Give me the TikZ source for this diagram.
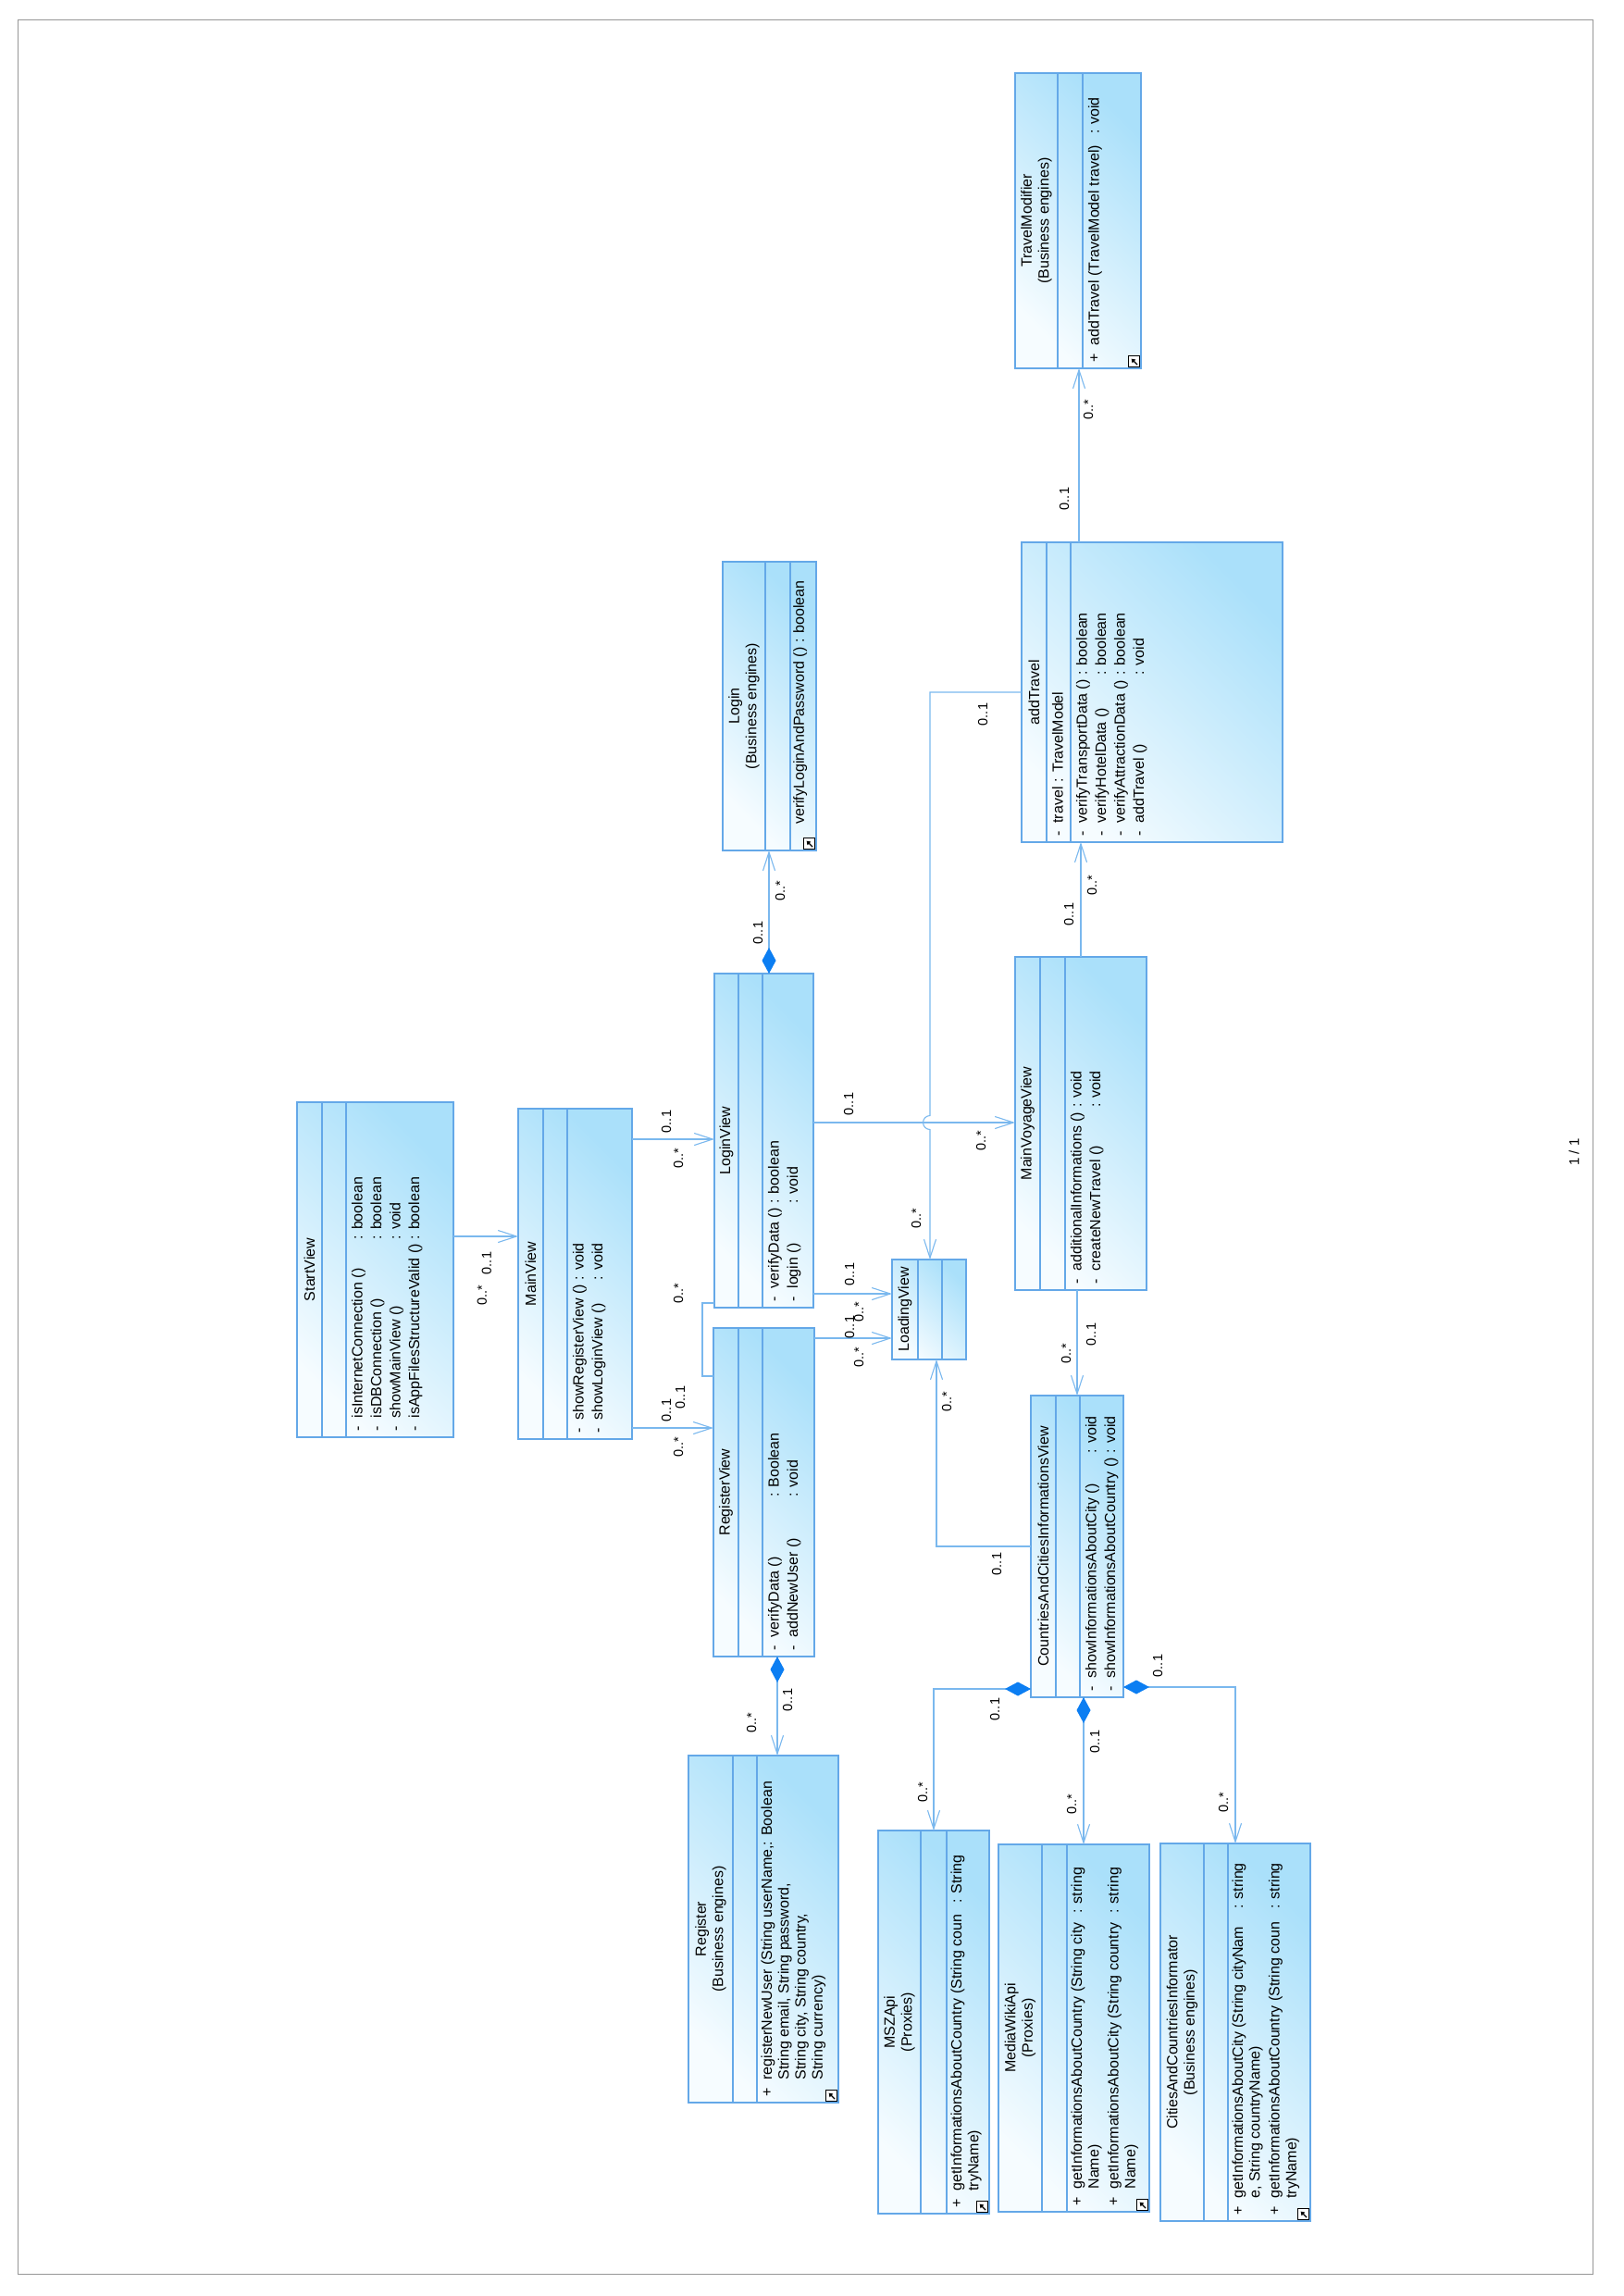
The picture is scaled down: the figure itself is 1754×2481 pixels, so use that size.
\documentclass[tikz,border=0pt]{standalone}
\usepackage{fontspec}
\setmainfont{Liberation Sans}
\usepackage{tikz}
\usetikzlibrary{arrows.meta}
\definecolor{umlBorder}{RGB}{100,168,232}
\definecolor{umlLight}{RGB}{246,252,255}
\definecolor{umlDark}{RGB}{170,224,250}
\definecolor{umlLine}{RGB}{122,184,238}
\definecolor{umlDiamond}{RGB}{12,126,242}
\definecolor{frameGray}{RGB}{150,150,150}

\begin{document}
\begin{tikzpicture}[x=1pt, y=-1pt,
  classbox/.style={draw=umlBorder, line width=1.1pt, top color=umlDark, bottom color=umlLight, shading angle=-45, anchor=north west, inner sep=0pt, outer sep=0pt},
  compline/.style={draw=umlBorder, line width=1.1pt},
  nametext/.style={rotate=90, align=center, inner sep=0pt, font=\fontsize{16}{18.5}\selectfont},
  opstext/.style={rotate=90, anchor=north west, inner sep=0pt, font=\fontsize{16}{20.5}\selectfont},
  mult/.style={rotate=90, inner sep=0pt, font=\fontsize{14.5}{17}\selectfont},
  assoc/.style={draw=umlLine, line width=1.1pt, -{Straight Barb[length=20pt,width=13pt]}},
  compo/.style={draw=umlLine, line width=1.1pt, {Diamond[length=28pt,width=15pt,color=umlDiamond,fill=umlDiamond]}-{Straight Barb[length=20pt,width=13pt]}},
  iconbox/.style={draw=black, fill=white, line width=0.8pt, minimum size=12pt, inner sep=0pt, anchor=south east,
    path picture={\draw[-{Triangle[length=4pt,width=5pt]}, line width=1.3pt] ([shift={(-2.5pt,2.5pt)}]path picture bounding box.south east) -- ([shift={(3pt,-3pt)}]path picture bounding box.north west);}}]
\useasboundingbox (0,0) rectangle (1754,2481);
\draw[frameGray, line width=1pt] (19,22) rectangle (1721,2457);
\node[rotate=90, font=\fontsize{15}{18}\selectfont] (pageNo) at (1701,1245) {1 / 1};

\node[classbox, minimum width=169, minimum height=362] (StartView) at (321,1191) {};
\draw[compline] ([xshift=27pt]StartView.north west) -- ([xshift=27pt]StartView.south west);
\draw[compline] ([xshift=53pt]StartView.north west) -- ([xshift=53pt]StartView.south west);
\node[nametext] (StartViewName) at ([xshift=13.5pt]StartView.west) {StartView};
\node[opstext] (StartViewOps) at ([xshift=56pt,yshift=6pt]StartView.south west) {\begin{tabular}{@{}l@{\hspace{9pt}}l@{\hspace{5pt}}l@{}}
- & isInternetConnection () & : boolean\\
- & isDBConnection () & : boolean\\
- & showMainView () & : void\\
- & isAppFilesStructureValid () & : boolean
\end{tabular}};

\node[classbox, minimum width=123, minimum height=357] (MainView) at (560,1198) {};
\draw[compline] ([xshift=27pt]MainView.north west) -- ([xshift=27pt]MainView.south west);
\draw[compline] ([xshift=53pt]MainView.north west) -- ([xshift=53pt]MainView.south west);
\node[nametext] (MainViewName) at ([xshift=13.5pt]MainView.west) {MainView};
\node[opstext] (MainViewOps) at ([xshift=56pt,yshift=6pt]MainView.south west) {\begin{tabular}{@{}l@{\hspace{9pt}}l@{\hspace{5pt}}l@{}}
- & showRegisterView () & : void\\
- & showLoginView () & : void
\end{tabular}};

\node[classbox, minimum width=107, minimum height=361] (LoginView) at (772,1052) {};
\draw[compline] ([xshift=26pt]LoginView.north west) -- ([xshift=26pt]LoginView.south west);
\draw[compline] ([xshift=52pt]LoginView.north west) -- ([xshift=52pt]LoginView.south west);
\node[nametext] (LoginViewName) at ([xshift=13pt]LoginView.west) {LoginView};
\node[opstext] (LoginViewOps) at ([xshift=55pt,yshift=6pt]LoginView.south west) {\begin{tabular}{@{}l@{\hspace{9pt}}l@{\hspace{5pt}}l@{}}
- & verifyData () & : boolean\\
- & login () & : void
\end{tabular}};

\node[classbox, minimum width=109, minimum height=355] (RegisterView) at (771,1435) {};
\draw[compline] ([xshift=27pt]RegisterView.north west) -- ([xshift=27pt]RegisterView.south west);
\draw[compline] ([xshift=53pt]RegisterView.north west) -- ([xshift=53pt]RegisterView.south west);
\node[nametext] (RegisterViewName) at ([xshift=13.5pt]RegisterView.west) {RegisterView};
\node[opstext] (RegisterViewOps) at ([xshift=56pt,yshift=6pt]RegisterView.south west) {\begin{tabular}{@{}l@{\hspace{9pt}}l@{\hspace{5pt}}l@{}}
- & \makebox[147pt][l]{verifyData ()} & : Boolean\\
- & addNewUser () & : void
\end{tabular}};

\node[classbox, minimum width=101, minimum height=312] (Login) at (781,607) {};
\draw[compline] ([xshift=46pt]Login.north west) -- ([xshift=46pt]Login.south west);
\draw[compline] ([xshift=73pt]Login.north west) -- ([xshift=73pt]Login.south west);
\node[nametext] (LoginName) at ([xshift=23pt]Login.west) {Login\\(Business engines)};
\node[opstext] (LoginOps) at ([xshift=76pt,yshift=28pt]Login.south west) {verifyLoginAndPassword ()\hspace{5pt}: boolean};
\node[iconbox] (LoginIcon) at ([xshift=-1pt,yshift=1pt]Login.south east) {};

\node[classbox, minimum width=162, minimum height=375] (Register) at (744,1897) {};
\draw[compline] ([xshift=48pt]Register.north west) -- ([xshift=48pt]Register.south west);
\draw[compline] ([xshift=74pt]Register.north west) -- ([xshift=74pt]Register.south west);
\node[nametext] (RegisterName) at ([xshift=24pt]Register.west) {Register\\(Business engines)};
\node[opstext, font=\fontsize{16}{18.3}\selectfont] (RegisterOps) at ([xshift=77pt,yshift=6pt]Register.south west) {\begin{tabular}{@{}l@{\hspace{9pt}}l@{}}
+ & registerNewUser (String userName,: Boolean\\
 & String email, String password,\\
 & String city, String country,\\
 & String currency)
\end{tabular}};
\node[iconbox] (RegisterIcon) at ([xshift=-1pt,yshift=1pt]Register.south east) {};

\node[classbox, minimum width=80, minimum height=108] (LoadingView) at (964,1361) {};
\draw[compline] ([xshift=28pt]LoadingView.north west) -- ([xshift=28pt]LoadingView.south west);
\draw[compline] ([xshift=54pt]LoadingView.north west) -- ([xshift=54pt]LoadingView.south west);
\node[nametext] (LoadingViewName) at ([xshift=14pt]LoadingView.west) {LoadingView};

\node[classbox, minimum width=142, minimum height=360] (MainVoyageView) at (1097,1034) {};
\draw[compline] ([xshift=27pt]MainVoyageView.north west) -- ([xshift=27pt]MainVoyageView.south west);
\draw[compline] ([xshift=54pt]MainVoyageView.north west) -- ([xshift=54pt]MainVoyageView.south west);
\node[nametext] (MainVoyageViewName) at ([xshift=13.5pt]MainVoyageView.west) {MainVoyageView};
\node[opstext] (MainVoyageViewOps) at ([xshift=57pt,yshift=6pt]MainVoyageView.south west) {\begin{tabular}{@{}l@{\hspace{9pt}}l@{\hspace{5pt}}l@{}}
- & additionalInformations () & : void\\
- & createNewTravel () & : void
\end{tabular}};

\node[classbox, minimum width=282, minimum height=324] (addTravel) at (1104,586) {};
\draw[compline] ([xshift=27pt]addTravel.north west) -- ([xshift=27pt]addTravel.south west);
\draw[compline] ([xshift=53pt]addTravel.north west) -- ([xshift=53pt]addTravel.south west);
\node[nametext] (addTravelName) at ([xshift=13.5pt]addTravel.west) {addTravel};
\node[opstext] (addTravelAttr) at ([xshift=30pt,yshift=6pt]addTravel.south west) {\begin{tabular}{@{}l@{\hspace{9pt}}l@{\hspace{5pt}}l@{}}
- & travel & : TravelModel
\end{tabular}};
\node[opstext] (addTravelOps) at ([xshift=56pt,yshift=6pt]addTravel.south west) {\begin{tabular}{@{}l@{\hspace{9pt}}l@{\hspace{5pt}}l@{}}
- & verifyTransportData () & : boolean\\
- & verifyHotelData () & : boolean\\
- & verifyAttractionData () & : boolean\\
- & addTravel () & : void
\end{tabular}};

\node[classbox, minimum width=136, minimum height=319] (TravelModifier) at (1097,79) {};
\draw[compline] ([xshift=46pt]TravelModifier.north west) -- ([xshift=46pt]TravelModifier.south west);
\draw[compline] ([xshift=73pt]TravelModifier.north west) -- ([xshift=73pt]TravelModifier.south west);
\node[nametext] (TravelModifierName) at ([xshift=23pt]TravelModifier.west) {TravelModifier\\(Business engines)};
\node[opstext] (TravelModifierOps) at ([xshift=76pt,yshift=6pt]TravelModifier.south west) {\begin{tabular}{@{}l@{\hspace{9pt}}l@{\hspace{12pt}}l@{}}
+ & addTravel (TravelModel travel) & : void
\end{tabular}};
\node[iconbox] (TravelModifierIcon) at ([xshift=-1pt,yshift=1pt]TravelModifier.south east) {};

\node[classbox, minimum width=100, minimum height=326] (CountriesView) at (1114,1508) {};
\draw[compline] ([xshift=27pt]CountriesView.north west) -- ([xshift=27pt]CountriesView.south west);
\draw[compline] ([xshift=53pt]CountriesView.north west) -- ([xshift=53pt]CountriesView.south west);
\node[nametext] (CountriesViewName) at ([xshift=13.5pt]CountriesView.west) {CountriesAndCitiesInformationsView};
\node[opstext] (CountriesViewOps) at ([xshift=56pt,yshift=6pt]CountriesView.south west) {\begin{tabular}{@{}l@{\hspace{9pt}}l@{\hspace{5pt}}l@{}}
- & showInformationsAboutCity () & : void\\
- & showInformationsAboutCountry () & : void
\end{tabular}};

\node[classbox, minimum width=120, minimum height=414] (MSZApi) at (949,1978) {};
\draw[compline] ([xshift=46pt]MSZApi.north west) -- ([xshift=46pt]MSZApi.south west);
\draw[compline] ([xshift=74pt]MSZApi.north west) -- ([xshift=74pt]MSZApi.south west);
\node[nametext] (MSZApiName) at ([xshift=23pt]MSZApi.west) {MSZApi\\(Proxies)};
\node[opstext, font=\fontsize{16}{18.3}\selectfont] (MSZApiOps) at ([xshift=77pt,yshift=6pt]MSZApi.south west) {\begin{tabular}{@{}l@{\hspace{9pt}}l@{\hspace{12pt}}l@{}}
+ & getInformationsAboutCountry (String coun & : String\\
 & tryName) &
\end{tabular}};
\node[iconbox] (MSZApiIcon) at ([xshift=-1pt,yshift=1pt]MSZApi.south east) {};

\node[classbox, minimum width=163, minimum height=397] (MediaWikiApi) at (1079,1993) {};
\draw[compline] ([xshift=47pt]MediaWikiApi.north west) -- ([xshift=47pt]MediaWikiApi.south west);
\draw[compline] ([xshift=74pt]MediaWikiApi.north west) -- ([xshift=74pt]MediaWikiApi.south west);
\node[nametext] (MediaWikiApiName) at ([xshift=23.5pt]MediaWikiApi.west) {MediaWikiApi\\(Proxies)};
\node[opstext, font=\fontsize{16}{18.3}\selectfont] (MediaWikiApiOps) at ([xshift=77pt,yshift=6pt]MediaWikiApi.south west) {\begin{tabular}{@{}l@{\hspace{9pt}}l@{\hspace{10pt}}l@{}}
+ & getInformationsAboutCountry (String city & : string\\
 & Name) & \\[3pt]
+ & getInformationsAboutCity (String country & : string\\
 & Name) &
\end{tabular}};
\node[iconbox] (MediaWikiApiIcon) at ([xshift=-1pt,yshift=1pt]MediaWikiApi.south east) {};

\node[classbox, minimum width=162, minimum height=408] (CitiesInformator) at (1254,1992) {};
\draw[compline] ([xshift=47pt]CitiesInformator.north west) -- ([xshift=47pt]CitiesInformator.south west);
\draw[compline] ([xshift=73pt]CitiesInformator.north west) -- ([xshift=73pt]CitiesInformator.south west);
\node[nametext] (CitiesInformatorName) at ([xshift=23.5pt]CitiesInformator.west) {CitiesAndCountriesInformator\\(Business engines)};
\node[opstext, font=\fontsize{16}{18.3}\selectfont] (CitiesInformatorOps) at ([xshift=76pt,yshift=6pt]CitiesInformator.south west) {\begin{tabular}{@{}l@{\hspace{9pt}}l@{\hspace{14pt}}l@{}}
+ & getInformationsAboutCity (String cityNam & : string\\
 & e, String countryName) & \\[3pt]
+ & getInformationsAboutCountry (String coun & : string\\
 & tryName) &
\end{tabular}};
\node[iconbox] (CitiesInformatorIcon) at ([xshift=-1pt,yshift=1pt]CitiesInformator.south east) {};

\draw[assoc] (StartView.east |- 0,1336) -- (MainView.west |- 0,1336);
\draw[assoc] (MainView.east |- 0,1231) -- (LoginView.west |- 0,1231);
\draw[assoc] (MainView.east |- 0,1543) -- (RegisterView.west |- 0,1543);
\draw[umlLine, line width=1.1pt] (LoginView.west |- 0,1408) -| (759,1487) -- (RegisterView.west |- 0,1487);
\draw[compo] (LoginView.north -| 831,0) -- (Login.south -| 831,0);
\draw[assoc] (LoginView.east |- 0,1213) -- (MainVoyageView.west |- 0,1213);
\draw[assoc] (addTravel.west |- 0,748) -| (1005,1205.5) arc[start angle=270, end angle=90, radius=7.5] -- (LoadingView.north -| 1005,0);
\draw[assoc] (LoginView.east |- 0,1398) -- (LoadingView.west |- 0,1398);
\draw[assoc] (RegisterView.east |- 0,1446) -- (LoadingView.west |- 0,1446);
\draw[assoc] (MainVoyageView.north -| 1168,0) -- (addTravel.south -| 1168,0);
\draw[assoc] (addTravel.north -| 1166,0) -- (TravelModifier.south -| 1166,0);
\draw[assoc] (MainVoyageView.south -| 1164,0) -- (CountriesView.north -| 1164,0);
\draw[assoc] (CountriesView.west |- 0,1671) -| (LoadingView.south -| 1012,0);
\draw[compo] (CountriesView.west |- 0,1825) -| (MSZApi.north -| 1009,0);
\draw[compo] (CountriesView.south -| 1171,0) -- (MediaWikiApi.north -| 1171,0);
\draw[compo] (CountriesView.east |- 0,1823) -| (CitiesInformator.north -| 1335,0);
\draw[compo] (RegisterView.south -| 840,0) -- (Register.north -| 840,0);

\node[mult] (StartMainA) at (526,1365) {0..1};
\node[mult] (StartMainB) at (521,1400) {0..*};
\node[mult] (MainLoginA) at (720,1212) {0..1};
\node[mult] (MainLoginB) at (733,1252) {0..*};
\node[mult] (MainRegisterA) at (720,1524) {0..1};
\node[mult] (MainRegisterB) at (733,1564) {0..*};
\node[mult] (LoginRegisterA) at (733,1398) {0..*};
\node[mult] (LoginRegisterB) at (735,1510) {0..1};
\node[mult] (LoginViewLoginA) at (819,1008) {0..1};
\node[mult] (LoginViewLoginB) at (843,963) {0..*};
\node[mult] (LoginVoyageA) at (917,1193) {0..1};
\node[mult] (LoginVoyageB) at (1060,1233) {0..*};
\node[mult] (TravelLoadingA) at (1062,772) {0..1};
\node[mult] (TravelLoadingB) at (990,1317) {0..*};
\node[mult] (LoginLoadingA) at (918,1377) {0..1};
\node[mult] (LoginLoadingB) at (928,1418) {0..*};
\node[mult] (RegisterLoadingA) at (918,1434) {0..1};
\node[mult] (RegisterLoadingB) at (928,1467) {0..*};
\node[mult] (VoyageTravelA) at (1155,988) {0..1};
\node[mult] (VoyageTravelB) at (1180,957) {0..*};
\node[mult] (TravelModA) at (1150,539) {0..1};
\node[mult] (TravelModB) at (1176,443) {0..*};
\node[mult] (VoyageCountriesA) at (1179,1442) {0..1};
\node[mult] (VoyageCountriesB) at (1152,1463) {0..*};
\node[mult] (CountriesLoadingA) at (1023,1515) {0..*};
\node[mult] (CountriesLoadingB) at (1077,1690) {0..1};
\node[mult] (CountriesMSZA) at (1075,1847) {0..1};
\node[mult] (CountriesMSZB) at (997,1937) {0..*};
\node[mult] (CountriesWikiA) at (1183,1882) {0..1};
\node[mult] (CountriesWikiB) at (1158,1950) {0..*};
\node[mult] (CountriesCitiesA) at (1251,1800) {0..1};
\node[mult] (CountriesCitiesB) at (1322,1948) {0..*};
\node[mult] (RegisterRegA) at (851,1837) {0..1};
\node[mult] (RegisterRegB) at (812,1862) {0..*};
\end{tikzpicture}
\end{document}
